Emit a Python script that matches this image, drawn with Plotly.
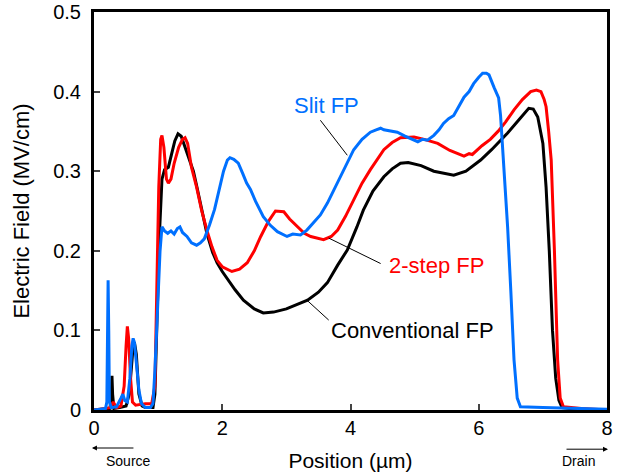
import plotly.graph_objects as go

# ---- data ----
conv_x = [0, 0.25, 0.27, 0.28, 0.29, 0.31, 0.4, 0.5, 0.55, 0.6, 0.63, 0.66, 0.7, 0.75, 0.8, 0.92,
          0.95, 0.98, 1.02, 1.06, 1.1, 1.16, 1.2, 1.26, 1.31, 1.36, 1.42, 1.5, 1.55, 1.6, 1.7, 1.76,
          1.85, 1.92, 2.0, 2.12, 2.2, 2.33, 2.5, 2.64, 2.8, 3.0, 3.33, 3.5, 3.64, 3.8, 3.95, 4.1,
          4.2, 4.35, 4.52, 4.65, 4.78, 4.9, 5.1, 5.3, 5.61, 5.8, 6.03, 6.2, 6.45, 6.6, 6.78, 6.85,
          6.92, 7.0, 7.05, 7.1, 7.15, 7.2, 7.25, 7.3, 7.5, 8.0]
conv_y = [0, 0.002, 0.02, 0.043, 0.02, 0.002, 0.003, 0.005, 0.02, 0.07, 0.085, 0.07, 0.02, 0.005, 0.003, 0.003,
          0.02, 0.1, 0.22, 0.29, 0.302, 0.305, 0.318, 0.338, 0.347, 0.344, 0.33, 0.31, 0.3, 0.282, 0.245, 0.222,
          0.198, 0.185, 0.174, 0.16, 0.151, 0.138, 0.127, 0.122, 0.123, 0.127, 0.138, 0.148, 0.16, 0.182, 0.201, 0.23,
          0.251, 0.275, 0.293, 0.303, 0.31, 0.311, 0.307, 0.3, 0.295, 0.3, 0.314, 0.327, 0.348, 0.362, 0.379, 0.378,
          0.368, 0.335, 0.28, 0.2, 0.1, 0.04, 0.012, 0.003, 0.001, 0]

step_x = [0, 0.25, 0.3, 0.35, 0.42, 0.47, 0.5, 0.52, 0.54, 0.57, 0.6, 0.65, 0.8, 0.9, 0.95, 0.98,
          1.01, 1.04, 1.06, 1.09, 1.13, 1.16, 1.2, 1.25, 1.32, 1.38, 1.42, 1.46, 1.52, 1.6, 1.68, 1.76,
          1.84, 1.92, 2.0, 2.15, 2.27, 2.39, 2.5, 2.6, 2.72, 2.83, 2.96, 3.05, 3.17, 3.28, 3.38, 3.58,
          3.7, 3.8, 3.92, 4.05, 4.18, 4.31, 4.42, 4.52, 4.65, 4.78, 4.99, 5.15, 5.36, 5.55, 5.77, 5.85,
          5.9, 6.05, 6.18, 6.3, 6.42, 6.55, 6.68, 6.81, 6.9, 6.97, 7.02, 7.05, 7.09, 7.13, 7.18, 7.23,
          7.27, 7.32, 7.6, 8.0]
step_y = [0, 0.003, 0.01, 0.003, 0.005, 0.03, 0.08, 0.105, 0.09, 0.04, 0.01, 0.006, 0.008, 0.008, 0.03, 0.15,
          0.28, 0.34, 0.345, 0.33, 0.29, 0.285, 0.29, 0.31, 0.33, 0.34, 0.342, 0.335, 0.305, 0.28, 0.25, 0.226,
          0.205, 0.188, 0.18, 0.174, 0.177, 0.185, 0.2, 0.218, 0.237, 0.25, 0.249, 0.24, 0.23, 0.222, 0.218, 0.214,
          0.218, 0.226, 0.243, 0.264, 0.285, 0.302, 0.316, 0.327, 0.336, 0.342, 0.343, 0.34, 0.335, 0.326, 0.319, 0.322,
          0.321, 0.332, 0.34, 0.35, 0.362, 0.377, 0.39, 0.4, 0.402, 0.4, 0.39, 0.381, 0.35, 0.314, 0.2, 0.063,
          0.015, 0.004, 0.002, 0]

slit_x = [0, 0.18, 0.2, 0.21, 0.22, 0.23, 0.24, 0.27, 0.35, 0.42, 0.45, 0.48, 0.52, 0.56, 0.59, 0.61,
          0.63, 0.66, 0.7, 0.74, 0.8, 0.88, 0.92, 0.95, 1.0, 1.03, 1.06, 1.1, 1.15, 1.2, 1.25, 1.3,
          1.34, 1.38, 1.45, 1.52, 1.6, 1.66, 1.72, 1.8, 1.88, 1.95, 2.02, 2.08, 2.12, 2.18, 2.25, 2.32,
          2.38, 2.44, 2.52, 2.64, 2.75, 2.86, 2.95, 3.01, 3.1, 3.22, 3.32, 3.42, 3.53, 3.64, 3.74, 3.84,
          3.95, 4.05, 4.18, 4.31, 4.4, 4.47, 4.52, 4.6, 4.73, 4.85, 4.95, 5.05, 5.12, 5.2, 5.3, 5.38,
          5.45, 5.53, 5.61, 5.69, 5.77, 5.85, 5.92, 6.0, 6.06, 6.12, 6.16, 6.24, 6.31, 6.34, 6.37, 6.41,
          6.45, 6.5, 6.55, 6.6, 6.65, 7.0, 7.5, 8.0]
slit_y = [0, 0.002, 0.01, 0.1, 0.163, 0.1, 0.01, 0.003, 0.004, 0.015, 0.02, 0.012, 0.01, 0.04, 0.08, 0.09,
          0.085, 0.06, 0.025, 0.008, 0.003, 0.003, 0.008, 0.05, 0.15, 0.2, 0.23, 0.225, 0.222, 0.225, 0.221, 0.228,
          0.23, 0.223, 0.218, 0.21, 0.207, 0.21, 0.215, 0.232, 0.252, 0.275, 0.3, 0.314, 0.317, 0.315, 0.31, 0.297,
          0.285, 0.277, 0.262, 0.243, 0.232, 0.224, 0.22, 0.218, 0.221, 0.22, 0.226, 0.235, 0.245, 0.26, 0.276, 0.293,
          0.31, 0.327, 0.34, 0.349, 0.352, 0.354, 0.352, 0.351, 0.349, 0.344, 0.34, 0.337, 0.34, 0.339, 0.345, 0.352,
          0.36, 0.366, 0.37, 0.382, 0.393, 0.4, 0.41, 0.418, 0.423, 0.423, 0.421, 0.405, 0.392, 0.37, 0.335, 0.28,
          0.23, 0.15, 0.063, 0.015, 0.004, 0.003, 0.002, 0.001]

x_ticks = [0, 2, 4, 6, 8]
y_ticks = [0, 0.1, 0.2, 0.3, 0.4, 0.5]
y_tick_text = ["0", "0.1", "0.2", "0.3", "0.4", "0.5"]

FONT = "Arial, Liberation Sans, sans-serif"
BLUE = "rgb(0,112,255)"
RED = "rgb(255,0,0)"

fig = go.Figure()
fig.add_trace(go.Scatter(x=conv_x, y=conv_y, mode="lines", line=dict(color="black", width=3), name="Conventional FP"))
fig.add_trace(go.Scatter(x=step_x, y=step_y, mode="lines", line=dict(color=RED, width=3), name="2-step FP"))
fig.add_trace(go.Scatter(x=slit_x, y=slit_y, mode="lines", line=dict(color=BLUE, width=3), name="Slit FP"))

# leader lines
leaders = [((3.53, 0.364), (3.95, 0.32)), ((3.66, 0.216), (4.47, 0.184)), ((3.32, 0.138), (3.66, 0.113))]
for (x0, y0), (x1, y1) in leaders:
    fig.add_shape(type="line", x0=x0, y0=y0, x1=x1, y1=y1, xref="x", yref="y",
                  line=dict(color="black", width=1))

labels = [("Slit FP", 3.62, 0.383, BLUE), ("2-step FP", 5.34, 0.182, RED), ("Conventional FP", 4.96, 0.1005, "black")]
for t, x, y, c in labels:
    fig.add_annotation(x=x, y=y, text=t, showarrow=False, xref="x", yref="y",
                       font=dict(family=FONT, size=22, color=c))

# Source / Drain arrows (paper coords so they are drawn outside the axis range)
fig.add_annotation(x=-0.004, y=-0.0955, xref="paper", yref="paper", text="", showarrow=True,
                   ax=43, ay=0, arrowhead=2, arrowsize=1, arrowwidth=1, arrowcolor="black")
fig.add_annotation(x=0.067, y=-0.128, xref="paper", yref="paper", text="Source", showarrow=False,
                   xanchor="center", yanchor="middle",
                   font=dict(family=FONT, size=14, color="black"))
fig.add_annotation(x=1.002, y=-0.0985, xref="paper", yref="paper", text="", showarrow=True,
                   ax=-43, ay=0, arrowhead=2, arrowsize=1, arrowwidth=1, arrowcolor="black")
fig.add_annotation(x=0.944, y=-0.128, xref="paper", yref="paper", text="Drain", showarrow=False,
                   xanchor="center", yanchor="middle",
                   font=dict(family=FONT, size=14, color="black"))

fig.update_layout(
    width=625, height=476,
    margin=dict(l=94, r=18, t=12, b=66, autoexpand=False),
    paper_bgcolor="white", plot_bgcolor="white",
    showlegend=False,
    font=dict(family=FONT, size=20, color="black"),
    xaxis=dict(range=[0, 8], tickvals=x_ticks, ticks="inside", ticklen=6, tickwidth=2,
               showline=True, linewidth=3, linecolor="black", mirror=True, automargin=False,
               showgrid=False, zeroline=False, ticklabelstandoff=-2,
               title=dict(text="Position (µm)", font=dict(family=FONT, size=21), standoff=16)),
    yaxis=dict(range=[0, 0.5], tickvals=y_ticks, ticktext=y_tick_text, ticks="inside", ticklen=6, tickwidth=2,
               showline=True, linewidth=3, linecolor="black", mirror=True, automargin=False,
               showgrid=False, zeroline=False, ticklabelstandoff=6,
               title=dict(text="Electric Field (MV/cm)", font=dict(family=FONT, size=22), standoff=18)),
)

fig.write_html("out.html", config={"displayModeBar": False},
               post_script="document.body.style.margin='0';document.body.style.overflow='hidden';")
